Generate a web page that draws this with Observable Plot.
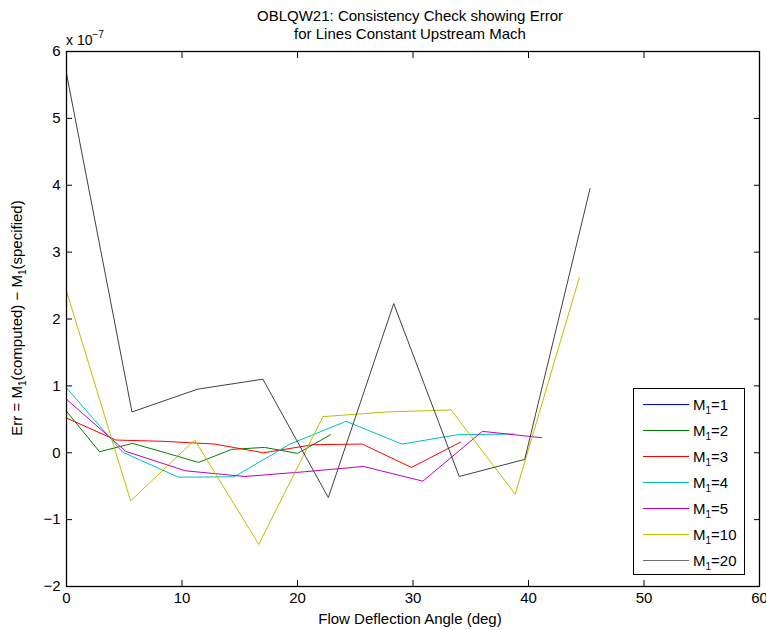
<!DOCTYPE html>
<html><head><meta charset="utf-8">
<script src="https://cdn.jsdelivr.net/npm/d3@7"></script>
<script src="https://cdn.jsdelivr.net/npm/@observablehq/plot@0.6"></script>
<style>
body{margin:0;background:#fff;font-family:"Liberation Sans",Arial,Helvetica,sans-serif;color:#000;}
#wrap{position:relative;width:766px;height:630px;overflow:hidden;}
#plot{position:absolute;left:0;top:0;}
.t{position:absolute;white-space:nowrap;font-size:15px;line-height:1;}
#title{left:0;width:820px;top:7px;text-align:center;line-height:18px;}
#exp{left:66px;top:30px;font-size:14px;}
#exp sup{font-size:10px;vertical-align:7px;}
#xlabel{left:0;width:820px;top:611px;text-align:center;}
#ylabel{left:18px;top:318px;transform:translate(-50%,-50%) rotate(-90deg);}
sub{font-size:10px;vertical-align:-4px;}
#legend{position:absolute;left:633px;top:388px;width:110px;height:185px;border:1px solid #000;background:#fff;}
.row{position:absolute;left:0;height:20px;width:110px;}
.row svg{position:absolute;left:9px;top:9px;}
.row span{position:absolute;left:59px;top:2px;font-size:15px;}
</style></head><body>
<div id="wrap">
<div id="plot"></div>
<div class="t" id="title">OBLQW21: Consistency Check showing Error<br>for Lines Constant Upstream Mach</div>
<div class="t" id="exp">x 10<sup>−7</sup></div>
<div class="t" id="xlabel">Flow Deflection Angle (deg)</div>
<div class="t" id="ylabel">Err = M<sub>1</sub>(computed) − M<sub>1</sub>(specified)</div>
<div id="legend"></div>
</div>
<script>
// Series labels and colors
const seriesNames = ["M1=1", "M1=2", "M1=3", "M1=4", "M1=5", "M1=10", "M1=20"];
const seriesLegend = ["1", "2", "3", "4", "5", "10", "20"];
const seriesColors = ["#0000ff", "#008000", "#ff0000", "#00bfbf", "#bf00bf", "#bfbf00", "#404040"];

// Flow deflection angle (deg) per series
const angM1 = [0];
const angM2 = [0, 2.86, 5.71, 8.57, 11.43, 14.29, 17.14, 20, 22.86];
const angM3 = [0, 4.27, 8.53, 12.8, 17.07, 21.33, 25.6, 29.87, 34.13];
const angM4 = [0, 4.84, 9.68, 14.52, 19.36, 24.2, 29.04, 33.88, 38.72];
const angM5 = [0, 5.14, 10.29, 15.43, 20.57, 25.71, 30.86, 36, 41.14];
const angM10 = [0, 5.55, 11.1, 16.65, 22.2, 27.75, 33.3, 38.85, 44.4];
const angM20 = [0, 5.67, 11.33, 17, 22.67, 28.33, 34, 39.67, 45.33];

// Error values (x 1e-7)
const errM1 = [0];
const errM2 = [0.62, 0.015, 0.14, 0.0, -0.145, 0.05, 0.08, -0.01, 0.27];
const errM3 = [0.52, 0.19, 0.17, 0.13, 0.0, 0.12, 0.13, -0.22, 0.16];
const errM4 = [0.97, 0.01, -0.365, -0.36, 0.13, 0.47, 0.13, 0.27, 0.28];
const errM5 = [0.80, 0.02, -0.27, -0.355, -0.285, -0.205, -0.425, 0.32, 0.225];
const errM10 = [2.42, -0.72, 0.19, -1.37, 0.54, 0.61, 0.64, -0.62, 2.62];
const errM20 = [5.67, 0.61, 0.95, 1.10, -0.67, 2.23, -0.355, -0.10, 3.95];

// Axis ticks
const xTicks = [0, 10, 20, 30, 40, 50, 60];
const yTicks = [-2, -1, 0, 1, 2, 3, 4, 5, 6];

const angs = [angM1, angM2, angM3, angM4, angM5, angM10, angM20];
const errs = [errM1, errM2, errM3, errM4, errM5, errM10, errM20];
const rows = [];
seriesNames.forEach((s, i) => angs[i].forEach((a, j) => rows.push({series: s, angle: a, err: errs[i][j]})));

const tick = 6;
const font = '"Liberation Sans",Arial,Helvetica,sans-serif';
const noText = () => "";
const chart = Plot.plot({
  width: 766, height: 630,
  marginLeft: 66, marginRight: 7, marginTop: 51, marginBottom: 44,
  style: {fontFamily: font, fontSize: "15px", color: "#000", background: "#fff"},
  x: {domain: [0, 60]},
  y: {domain: [-2, 6]},
  color: {domain: seriesNames, range: seriesColors},
  marks: [
    Plot.line(rows, {x: "angle", y: "err", z: "series", stroke: "series", strokeWidth: 1}),
    // inward ticks on all four sides (MATLAB style): outward ticks shifted inside
    Plot.axisX(xTicks, {anchor: "bottom", tickSize: tick, dy: -tick, tickFormat: noText, label: null, stroke: "#000"}),
    Plot.axisX(xTicks, {anchor: "top", tickSize: tick, dy: tick, tickFormat: noText, label: null, stroke: "#000"}),
    Plot.axisY(yTicks, {anchor: "left", tickSize: tick, dx: tick, tickFormat: noText, label: null, stroke: "#000"}),
    Plot.axisY(yTicks, {anchor: "right", tickSize: tick, dx: -tick, tickFormat: noText, label: null, stroke: "#000"}),
    Plot.frame({stroke: "#000", strokeWidth: 1.3}),
    Plot.axisX(xTicks, {anchor: "bottom", tickSize: 0, tickPadding: 6, label: null, tickFormat: d => d, fontSize: 15}),
    Plot.axisY(yTicks, {anchor: "left", tickSize: 0, tickPadding: 6, label: null, tickFormat: d => d < 0 ? "−" + (-d) : String(d), fontSize: 15})
  ]
});
document.getElementById("plot").appendChild(chart);

const leg = document.getElementById("legend");
seriesNames.forEach((s, i) => {
  const r = document.createElement("div");
  r.className = "row";
  r.style.top = (5 + i * 26) + "px";
  r.innerHTML = `<svg width="46" height="3"><line x1="0" y1="1.5" x2="46" y2="1.5" stroke="${i === 6 ? '#707070' : seriesColors[i]}" stroke-width="1"/></svg><span>M<sub>1</sub>=${seriesLegend[i]}</span>`;
  leg.appendChild(r);
});
</script>
</body></html>
